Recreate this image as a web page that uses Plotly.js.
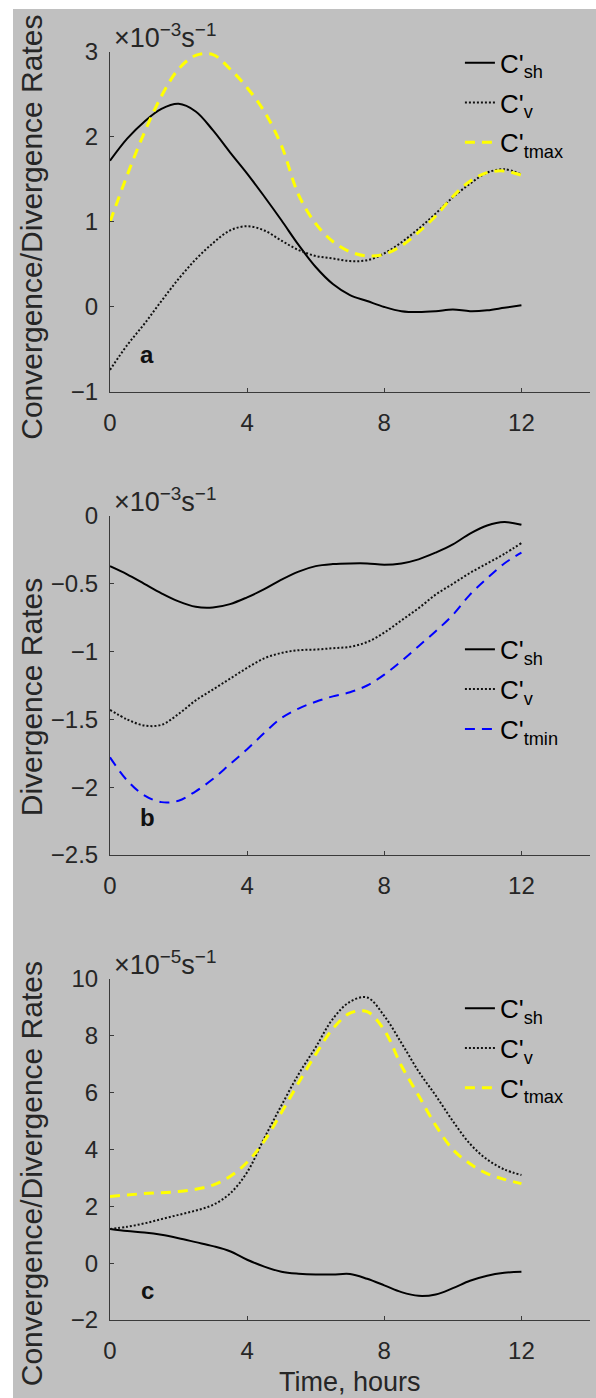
<!DOCTYPE html>
<html>
<head>
<meta charset="utf-8">
<script src="https://cdn.plot.ly/plotly-3.0.1.min.js"></script>
<style>
  html, body { margin: 0; padding: 0; background: #ffffff; width: 596px; height: 1398px; overflow: hidden; }
  #chart { position: absolute; left: 13px; top: 9px; width: 583px; height: 1389px; }
</style>
</head>
<body>
<div id="chart"></div>
<script>
// ---------- data ----------
const hours = [0,0.5,1,1.5,2,2.5,3,3.5,4,4.5,5,5.5,6,6.5,7,7.5,8,8.5,9,9.5,10,10.5,11,11.5,12];

// panel a (x10^-3 s^-1)
const shA   = [1.72,1.98,2.18,2.33,2.39,2.3,2.08,1.82,1.57,1.3,1.02,0.73,0.47,0.27,0.14,0.07,0.0,-0.05,-0.06,-0.05,-0.03,-0.05,-0.04,-0.01,0.02];
const vA    = [-0.74,-0.45,-0.2,0.07,0.33,0.56,0.75,0.9,0.95,0.9,0.78,0.67,0.6,0.57,0.54,0.55,0.63,0.76,0.92,1.1,1.29,1.45,1.58,1.62,1.56];
const tmaxA = [1.0,1.55,2.05,2.48,2.8,2.96,2.97,2.8,2.58,2.3,1.9,1.32,0.98,0.77,0.65,0.6,0.62,0.72,0.88,1.07,1.3,1.48,1.58,1.6,1.55];

// panel b (x10^-3 s^-1)
const shB   = [-0.37,-0.43,-0.5,-0.57,-0.63,-0.67,-0.675,-0.65,-0.6,-0.54,-0.47,-0.41,-0.37,-0.355,-0.35,-0.35,-0.36,-0.35,-0.32,-0.27,-0.21,-0.13,-0.07,-0.045,-0.065];
const vB    = [-1.43,-1.5,-1.545,-1.54,-1.46,-1.36,-1.28,-1.2,-1.12,-1.05,-1.01,-0.99,-0.985,-0.975,-0.965,-0.93,-0.86,-0.77,-0.68,-0.58,-0.5,-0.42,-0.35,-0.28,-0.2];
const tminB = [-1.78,-1.95,-2.06,-2.11,-2.1,-2.03,-1.94,-1.83,-1.72,-1.6,-1.49,-1.42,-1.37,-1.33,-1.3,-1.25,-1.17,-1.07,-0.96,-0.85,-0.73,-0.58,-0.46,-0.35,-0.27];

// panel c (x10^-5 s^-1)
const shC   = [1.2,1.13,1.08,1.0,0.88,0.74,0.6,0.42,0.12,-0.12,-0.3,-0.37,-0.4,-0.4,-0.38,-0.55,-0.78,-1.02,-1.15,-1.1,-0.88,-0.62,-0.44,-0.34,-0.3];
const vC    = [1.2,1.28,1.4,1.55,1.7,1.85,2.05,2.45,3.2,4.4,5.55,6.65,7.6,8.6,9.2,9.35,8.7,7.75,6.75,5.9,5.0,4.2,3.65,3.3,3.1];
const tmaxC = [2.35,2.4,2.45,2.48,2.52,2.6,2.75,3.05,3.55,4.3,5.3,6.35,7.35,8.25,8.8,8.85,8.2,6.95,5.9,4.85,4.0,3.5,3.15,2.95,2.8];

// ticks and labels
const xTicks   = [0,4,8,12];
const yTicksA  = [-1,0,1,2,3];
const yTicksB  = [-2.5,-2,-1.5,-1,-0.5,0];
const yTicksC  = [-2,0,2,4,6,8,10];
const panelLetters = ['a','b','c'];
const yTitles  = ['Convergence/Divergence Rates','Divergence Rates','Convergence/Divergence Rates'];
const expTexts = ['\u00d710<sup>\u22123</sup>s<sup>\u22121</sup>','\u00d710<sup>\u22123</sup>s<sup>\u22121</sup>','\u00d710<sup>\u22125</sup>s<sup>\u22121</sup>'];
const xTitle   = 'Time, hours';
const names = {sh:"C'<sub>sh</sub>", v:"C'<sub>v</sub>", tmax:"C'<sub>tmax</sub>", tmin:"C'<sub>tmin</sub>"};

// ---------- styles ----------
const BG = '#c0c0c0';
const TXT = '#262626';
const FONT = 'Liberation Sans, Arial, sans-serif';
const solid  = {color:'#000000', width:2, shape:'spline', smoothing:1};
const dotted = {color:'#111111', width:2, dash:'2px,2px', shape:'spline', smoothing:1};
const yellow = {color:'#ffff00', width:3, dash:'10px,7px', shape:'spline', smoothing:1};
const blue   = {color:'#0000ff', width:2, dash:'10px,7px', shape:'spline', smoothing:1};

function tr(y, name, line, xa, ya, leg, grp) {
  return {x: hours, y: y, name: name, type:'scatter', mode:'lines', line: line,
          xaxis: xa, yaxis: ya, legend: leg, legendgroup: grp, hoverinfo:'skip'};
}

const data = [
  tr(shA, names.sh, solid, 'x', 'y', 'legend', 'a1'),
  tr(vA, names.v, dotted, 'x', 'y', 'legend', 'a2'),
  tr(tmaxA, names.tmax, yellow, 'x', 'y', 'legend', 'a3'),
  tr(shB, names.sh, solid, 'x2', 'y2', 'legend2', 'b1'),
  tr(vB, names.v, dotted, 'x2', 'y2', 'legend2', 'b2'),
  tr(tminB, names.tmin, blue, 'x2', 'y2', 'legend2', 'b3'),
  tr(shC, names.sh, solid, 'x3', 'y3', 'legend3', 'c1'),
  tr(vC, names.v, dotted, 'x3', 'y3', 'legend3', 'c2'),
  tr(tmaxC, names.tmax, yellow, 'x3', 'y3', 'legend3', 'c3')
];

function xax(anchor) {
  return {anchor: anchor, range:[0,14], tickvals: xTicks, ticktext: xTicks.map(String),
    showline:true, linecolor:'#3a3a3a', linewidth:1, ticks:'inside', ticklen:4, tickcolor:'#3a3a3a',
    showgrid:false, zeroline:false, ticklabelstandoff: 9,
    tickfont:{family:FONT, size:24, color:TXT}, fixedrange:true};
}
function yax(anchor, range, vals, dom) {
  return {anchor: anchor, range: range, domain: dom, tickvals: vals,
    ticktext: vals.map(v => v < 0 ? '\u2212' + String(-v) : String(v)),
    showline:true, linecolor:'#3a3a3a', linewidth:1, ticks:'inside', ticklen:4, tickcolor:'#3a3a3a',
    showgrid:false, zeroline:false, ticklabelstandoff: 6,
    tickfont:{family:FONT, size:24, color:TXT}, fixedrange:true};
}

function legend(y) {
  return {x:0.729, y:y, xanchor:'left', yanchor:'top', xref:'paper', yref:'paper',
    bgcolor:'rgba(0,0,0,0)', borderwidth:0, tracegroupgap:3,
    font:{family:FONT, size:26, color:'#000000'}};
}

const annotations = [];
const axisIds = ['', '2', '3'];
const yShifts = [-5, -12, -24];
axisIds.forEach((id, i) => {
  annotations.push({text: expTexts[i], xref:'x'+id+' domain', yref:'y'+id+' domain', x:0.004, y:1,
    xanchor:'left', yanchor:'bottom', yshift:-3, showarrow:false,
    font:{family:FONT, size:27, color:TXT}});
  annotations.push({text: panelLetters[i], xref:'x'+id+' domain', yref:'y'+id+' domain',
    x: (1.08/14), y: [(0.44/4), (0.28/2.5), (1.05/12)][i],
    xanchor:'center', yanchor:'middle', showarrow:false,
    font:{family:FONT, size:24, color:'#111111', weight:'bold'}});
  annotations.push({text: yTitles[i], xref:'paper', yref:'y'+id+' domain', x:-0.163, y:0.5,
    xanchor:'center', yanchor:'middle', textangle:-90, yshift: yShifts[i], showarrow:false,
    font:{family:FONT, size:30, color:TXT}});
});
annotations.push({text: xTitle, xref:'x3 domain', yref:'y3 domain', x:0.5, y:0,
  xanchor:'center', yanchor:'middle', yshift:-62, showarrow:false,
  font:{family:FONT, size:27, color:TXT}});

const layout = {
  width:583, height:1389,
  margin:{l:97, r:6, t:43, b:78, pad:0},
  paper_bgcolor: BG, plot_bgcolor: BG,
  showlegend:true,
  xaxis: xax('y'), xaxis2: xax('y2'), xaxis3: xax('y3'),
  yaxis: yax('x', [-1,3], yTicksA, [0.7319, 1.0]),
  yaxis2: yax('x2', [-2.5,0], yTicksB, [0.3667, 0.6341]),
  yaxis3: yax('x3', [-2,10], yTicksC, [0, 0.2689]),
  legend: legend(1.010), legend2: legend(0.5474), legend3: legend(0.2643),
  annotations: annotations,
  font:{family:FONT, color:TXT}
};

Plotly.newPlot('chart', data, layout, {displayModeBar:false, staticPlot:true});
</script>
</body>
</html>
